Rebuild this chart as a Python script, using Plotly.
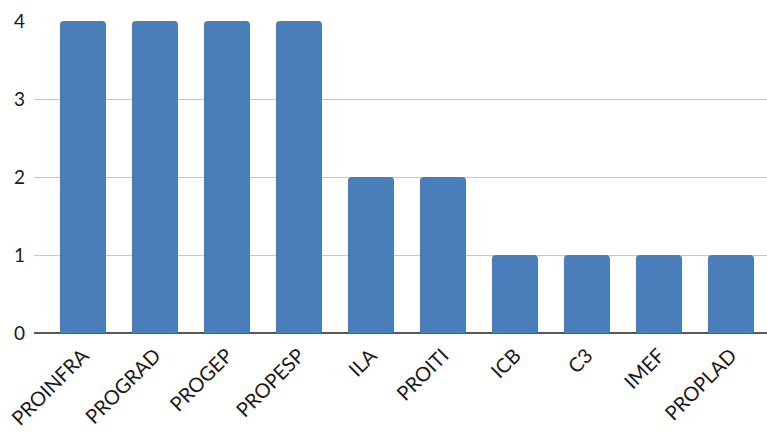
import plotly.graph_objects as go

categories = ["PROINFRA", "PROGRAD", "PROGEP", "PROPESP", "ILA", "PROITI", "ICB", "C3", "IMEF", "PROPLAD"]
values = [4, 4, 4, 4, 2, 2, 1, 1, 1, 1]

fig = go.Figure(
    go.Bar(
        x=categories,
        y=values,
        marker=dict(color="#4a7ebb", line=dict(width=0), cornerradius=4),
        width=0.64,
    )
)

font_family = "Lato, Open Sans, sans-serif"

fig.update_layout(
    width=767,
    height=432,
    margin=dict(l=34, r=0, t=21, b=99),
    paper_bgcolor="white",
    plot_bgcolor="white",
    showlegend=False,
    font=dict(family=font_family, size=19, color="#1a1a1a"),
)

fig.update_xaxes(
    range=[-0.68, 9.5],
    tickangle=-45,
    tickfont=dict(size=20),
    showgrid=False,
    showline=False,
    ticks="",
    ticklabelstandoff=6,
)

fig.update_yaxes(
    range=[0, 4],
    tickvals=[0, 1, 2, 3, 4],
    showgrid=True,
    gridcolor="#c8c8c8",
    gridwidth=1,
    zeroline=True,
    zerolinecolor="#595959",
    zerolinewidth=1.5,
    tickfont=dict(size=19),
    ticks="",
    ticklabelstandoff=8,
)

fig.write_html("out.html")
